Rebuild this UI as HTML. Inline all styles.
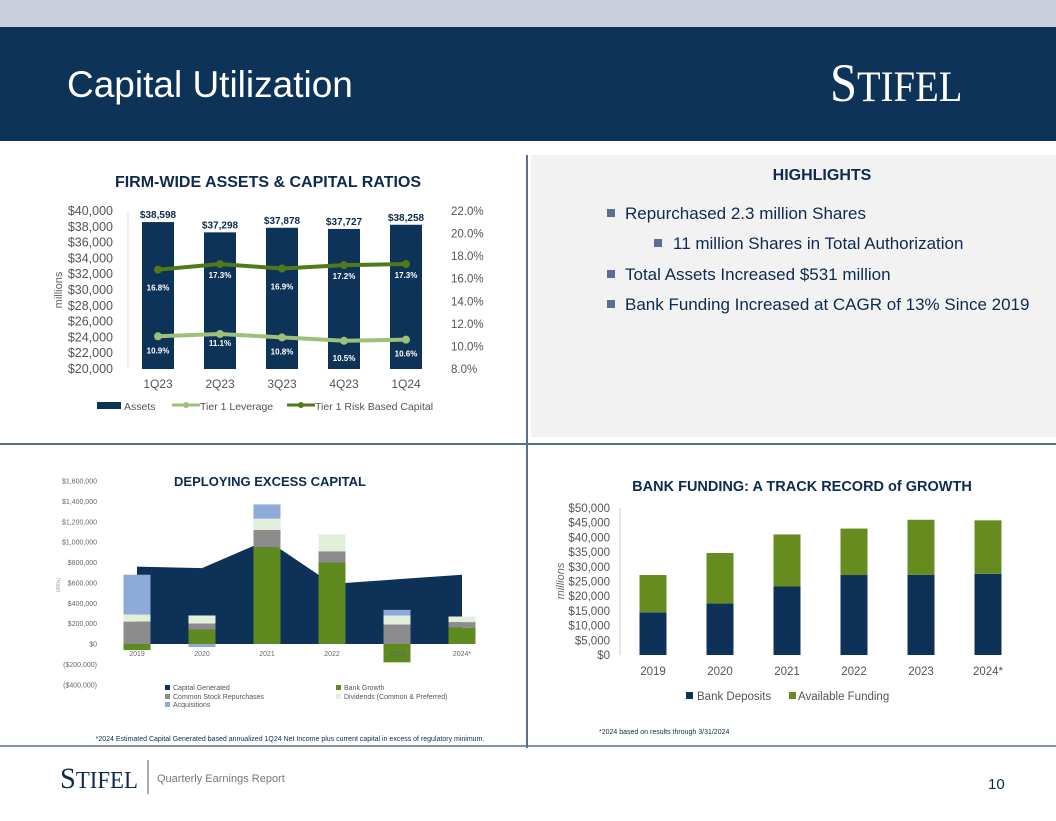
<!DOCTYPE html>
<html><head><meta charset="utf-8">
<style>
body{margin:0;width:1056px;height:816px;overflow:hidden;background:#fff;font-family:"Liberation Sans",sans-serif;}
svg text{font-family:"Liberation Sans",sans-serif;}
</style></head>
<body>
<svg id="s" width="1056" height="816" xmlns="http://www.w3.org/2000/svg">
<rect x="0" y="0" width="1056" height="27" fill="#c9cfdb"/>
<rect x="0" y="27" width="1056" height="114" fill="#0e3359"/>
<text x="67" y="97" fill="#fff" font-size="37">Capital Utilization</text>
<text x="0" y="101" fill="#fff" font-size="54" style="font-family:'Liberation Serif',serif" transform="translate(830,0) scale(0.9,1)">S<tspan font-size="43">TIFEL</tspan></text>
<rect x="531" y="155" width="525" height="282" fill="#f2f2f2"/>
<line x1="527" y1="155" x2="527" y2="748" stroke="#5a6f8f" stroke-width="2"/>
<line x1="0" y1="444" x2="1056" y2="444" stroke="#5a6f8f" stroke-width="2"/>
<line x1="0" y1="746" x2="1056" y2="746" stroke="#5a6f8f" stroke-width="1.5"/>
<text x="822" y="180" text-anchor="middle" font-size="16" font-weight="bold" fill="#0e2a4f">HIGHLIGHTS</text>
<g fill="#5a6f8f"><rect x="607" y="209" width="8" height="8"/><rect x="654" y="239" width="8" height="8"/><rect x="607" y="270" width="8" height="8"/><rect x="607" y="300" width="8" height="8"/></g>
<g font-size="17" fill="#0e2a4f">
<text x="625" y="219">Repurchased 2.3 million Shares</text>
<text x="673" y="249">11 million Shares in Total Authorization</text>
<text x="625" y="280">Total Assets Increased $531 million</text>
<text x="625" y="310">Bank Funding Increased at CAGR of 13% Since 2019</text>
</g>
<g id="c1"></g>
<g id="c2"></g>
<g id="c3"></g>
<text x="0" y="788" font-size="30" fill="#0e2a4f" style="font-family:'Liberation Serif',serif" transform="translate(60,0) scale(0.95,1)">S<tspan font-size="24">TIFEL</tspan></text>
<line x1="148" y1="760" x2="148" y2="794" stroke="#555" stroke-width="1"/>
<text x="157" y="782" font-size="11" fill="#777">Quarterly Earnings Report</text>
<text x="988" y="789" font-size="15" fill="#0e2a4f">10</text>
</svg>
<script>
const NS="http://www.w3.org/2000/svg";
function mk(p,t,a,txt){const e=document.createElementNS(NS,t);for(const k in a)e.setAttribute(k,a[k]);if(txt!==undefined)e.textContent=txt;p.appendChild(e);return e;}
const navy="#0e3359",green="#5f8a1f";

// Chart 1 data
const q=["1Q23","2Q23","3Q23","4Q23","1Q24"];
const assets=[38598,37298,37878,37727,38258];
const tier1Lev=[10.9,11.1,10.8,10.5,10.6];
const tier1Risk=[16.8,17.3,16.9,17.2,17.3];
const c1LeftTicks=[20000,22000,24000,26000,28000,30000,32000,34000,36000,38000,40000];
const c1RightTicks=[8,10,12,14,16,18,20,22];

// Chart 2 data (thousands)
const years=["2019","2020","2021","2022","2023","2024*"];
const capGen=[760,745,1020,590,635,680];
const bankGrowth=[-60,140,950,800,-180,160];
const repurch=[220,60,170,110,190,55];
const divs=[70,80,110,165,90,55];
const acq=[390,-30,140,0,55,0];
const c2Ticks=[-400,-200,0,200,400,600,800,1000,1200,1400,1600];

// Chart 3 data
const deposits=[14500,17500,23300,27200,27300,27600];
const available=[12700,17200,17700,15800,18700,18200];
const c3Ticks=[0,5000,10000,15000,20000,25000,30000,35000,40000,45000,50000];

const fmt=n=>n.toLocaleString("en-US");

// ---- Chart 1
(function(){
const g=document.getElementById("c1");
const y=v=>369-(v-20000)/20000*158, yr=v=>369-(v-8)/14*158, x=i=>158+i*62;
mk(g,"text",{x:268,y:187,"text-anchor":"middle","font-size":16,"font-weight":"bold",fill:"#0e2a4f"},"FIRM-WIDE ASSETS & CAPITAL RATIOS");
c1LeftTicks.forEach(t=>{const e=mk(g,"text",{x:113,y:y(t)+4,"text-anchor":"end","font-size":12.5,fill:"#555"},"$"+fmt(t));});
c1RightTicks.forEach(t=>{const e=mk(g,"text",{x:451,y:yr(t)+4,"font-size":11.5,fill:"#555"},t.toFixed(1)+"%");});
mk(g,"text",{x:62,y:290,"font-size":11,fill:"#666",transform:"rotate(-90 62 290)","text-anchor":"middle"},"millions");
mk(g,"line",{x1:128,y1:211,x2:128,y2:369,stroke:"#ddd"});
assets.forEach((v,i)=>{const r=mk(g,"rect",{x:x(i)-16,y:y(v),width:32,height:369-y(v),fill:navy});
mk(g,"text",{x:x(i),y:y(v)-4,"text-anchor":"middle","font-size":10,"font-weight":"bold",fill:"#0e2a4f"},"$"+fmt(v));
mk(g,"text",{x:x(i),y:388,"text-anchor":"middle","font-size":12,fill:"#555"},q[i]);});
function line(arr,col,dy){mk(g,"polyline",{points:arr.map((v,i)=>x(i)+","+yr(v)).join(" "),fill:"none",stroke:col,"stroke-width":4});
arr.forEach((v,i)=>{const c=mk(g,"circle",{cx:x(i),cy:yr(v),r:4,fill:col});
mk(g,"text",{x:x(i),y:yr(v)+dy[i],"text-anchor":"middle","font-size":8,"font-weight":"bold",fill:"#fff"},v.toFixed(1)+"%");});}
line(tier1Lev,"#9dc07a",[17,12,17,20,17]);
line(tier1Risk,"#4e7a1a",[21,14,21,14,14]);
mk(g,"rect",{x:97,y:402,width:24,height:7,fill:navy});mk(g,"text",{x:124,y:410,"font-size":10.5,fill:"#555"},"Assets");
mk(g,"line",{x1:172,y1:405,x2:200,y2:405,stroke:"#9dc07a","stroke-width":3});mk(g,"circle",{cx:186,cy:405,r:3,fill:"#9dc07a"});
mk(g,"text",{x:200,y:410,"font-size":10.5,fill:"#555"},"Tier 1 Leverage");
mk(g,"line",{x1:287,y1:405,x2:315,y2:405,stroke:"#4e7a1a","stroke-width":3});mk(g,"circle",{cx:301,cy:405,r:3,fill:"#4e7a1a"});
mk(g,"text",{x:315,y:410,"font-size":10.5,fill:"#555"},"Tier 1 Risk Based Capital");
})();

// ---- Chart 2
(function(){
const g=document.getElementById("c2");
const y=v=>644-v/1600*163, x=i=>137+i*65, bw=27;
mk(g,"text",{x:270,y:486,"text-anchor":"middle","font-size":13,"font-weight":"bold",fill:"#0e2a4f"},"DEPLOYING EXCESS CAPITAL");
c2Ticks.forEach(t=>{const s=t<0?"($"+fmt(-t*1000)+")":"$"+fmt(t*1000);const e=mk(g,"text",{x:97,y:y(t)+2.5,"text-anchor":"end","font-size":7,fill:"#666"},s);});
mk(g,"text",{x:60,y:585,"font-size":5,fill:"#999",transform:"rotate(-90 60 585)","text-anchor":"middle"},"(000s)");
let pts=capGen.map((v,i)=>x(i)+","+y(v));pts.push(x(5)+","+y(0));pts.push(x(0)+","+y(0));
const a=mk(g,"polygon",{points:pts.join(" "),fill:"#0d3157"});
years.forEach((yy,i)=>{
 let pos=0,neg=0;
 [[bankGrowth,"#5f8a1f"],[repurch,"#8c8c8c"],[divs,"#e2efda"],[acq,"#8eaadb"]].forEach(([arr,col])=>{const v=arr[i];if(!v)return;let y0,y1;
  if(v>0){y0=y(pos+v);y1=y(pos);pos+=v;}else{y0=y(neg);y1=y(neg+v);neg+=v;}
  const r=mk(g,"rect",{x:x(i)-bw/2,y:y0,width:bw,height:y1-y0,fill:col});});
 mk(g,"text",{x:x(i),y:656,"text-anchor":"middle","font-size":7,fill:"#666"},yy);
});
const L=[[165,690,"#0d3157","Capital Generated"],[336,690,"#5f8a1f","Bank Growth"],[165,699,"#8c8c8c","Common Stock Repurchases"],[336,699,"#e2efda","Dividends (Common & Preferred)"],[165,707,"#8eaadb","Acquisitions"]];
L.forEach(l=>{mk(g,"rect",{x:l[0],y:l[1]-5,width:5,height:5,fill:l[2]});mk(g,"text",{x:l[0]+8,y:l[1],"font-size":7,fill:"#555"},l[3]);});
mk(g,"text",{x:290,y:741,"text-anchor":"middle","font-size":7,fill:"#0e2a4f"},"*2024 Estimated Capital Generated based annualized 1Q24 Net Income plus current capital in excess of regulatory minimum.");
})();

// ---- Chart 3
(function(){
const g=document.getElementById("c3");
const y=v=>655-v/50000*147, x=i=>653+i*67, bw=27;
mk(g,"text",{x:802,y:491,"text-anchor":"middle","font-size":14.5,"font-weight":"bold",fill:"#0e2a4f"},"BANK FUNDING: A TRACK RECORD of GROWTH");
c3Ticks.forEach(t=>{const e=mk(g,"text",{x:610,y:y(t)+4,"text-anchor":"end","font-size":11.5,fill:"#555"},"$"+fmt(t));});
mk(g,"text",{x:564,y:581,"font-size":11,fill:"#666","font-style":"italic",transform:"rotate(-90 564 581)","text-anchor":"middle"},"millions");
mk(g,"line",{x1:620,y1:508,x2:620,y2:655,stroke:"#ccc"});
years.forEach((yy,i)=>{
 const r1=mk(g,"rect",{x:x(i)-bw/2,y:y(deposits[i]),width:bw,height:655-y(deposits[i]),fill:"#0d3157"});
 const top=deposits[i]+available[i];
 const r2=mk(g,"rect",{x:x(i)-bw/2,y:y(top),width:bw,height:y(deposits[i])-y(top),fill:"#668c1f"});
 mk(g,"text",{x:x(i),y:675,"text-anchor":"middle","font-size":11.5,fill:"#555"},yy);
});
mk(g,"rect",{x:686,y:692,width:7,height:7,fill:"#0d3157"});mk(g,"text",{x:697,y:700,"font-size":11.5,fill:"#555"},"Bank Deposits");
mk(g,"rect",{x:789,y:692,width:7,height:7,fill:"#668c1f"});mk(g,"text",{x:798,y:700,"font-size":11.5,fill:"#555"},"Available Funding");
mk(g,"text",{x:599,y:734,"font-size":7,fill:"#0e2a4f"},"*2024 based on results through 3/31/2024");
})();
</script>
</body></html>
